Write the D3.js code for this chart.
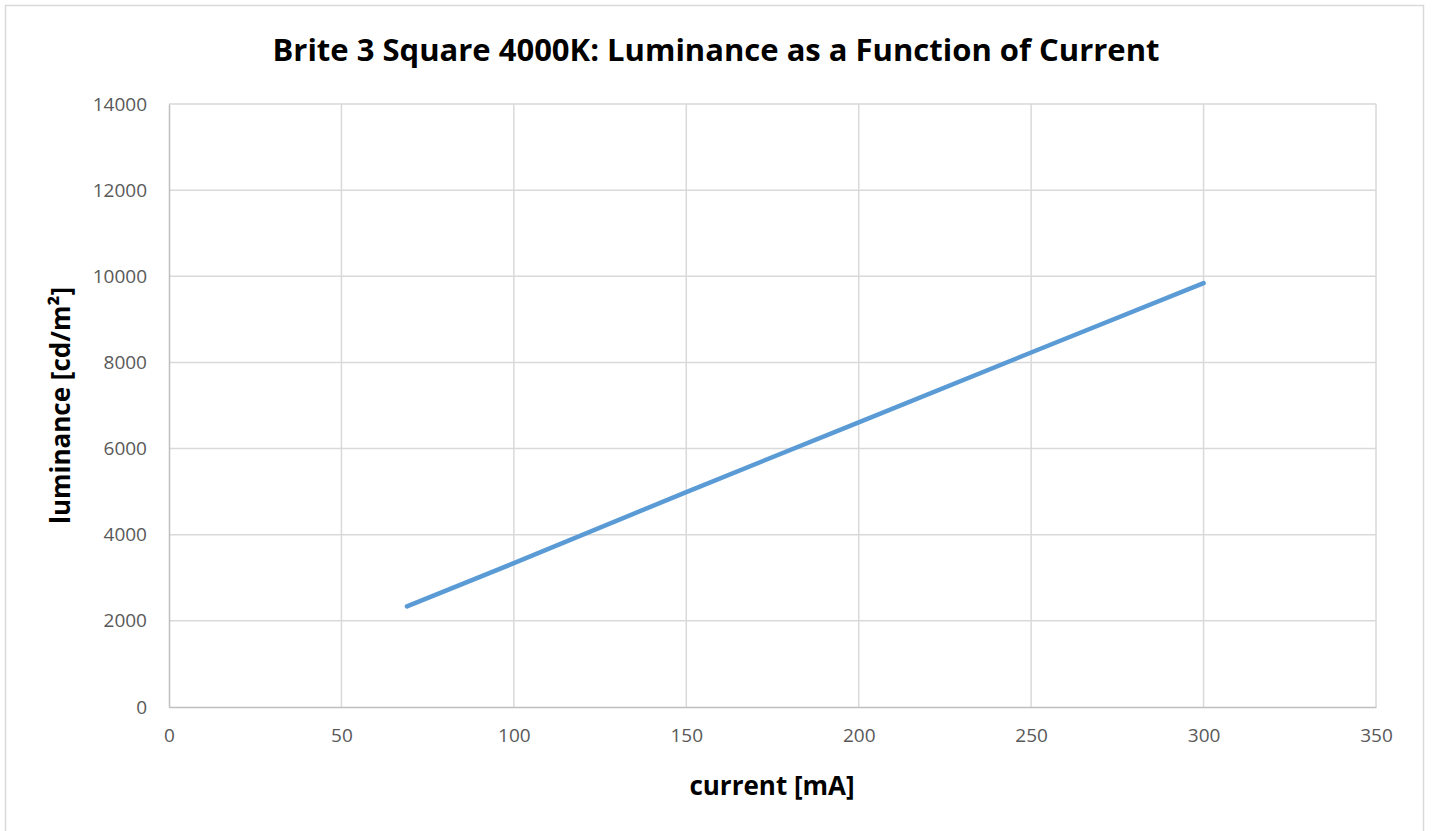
<!DOCTYPE html>
<html>
<head>
<meta charset="utf-8">
<script src="https://cdn.jsdelivr.net/npm/d3@7"></script>
<style>
  body { margin: 0; background: #fff; }
  text { font-family: "Open Sans", "Noto Sans", sans-serif; }
</style>
</head>
<body>
<svg width="1432" height="831"></svg>
<script>
const width = 1432;
const height = 831;

// data
const currentMA = [69, 100, 150, 200, 250, 300];
const luminance = [2335, 3340, 4990, 6610, 8230, 9840];
const xTicks = [0, 50, 100, 150, 200, 250, 300, 350];
const yTicks = [0, 2000, 4000, 6000, 8000, 10000, 12000, 14000];

const margin = { left: 169, right: 1376, top: 104, bottom: 707 };

const x = d3.scaleLinear().domain([0, 350]).range([margin.left, margin.right]);
const y = d3.scaleLinear().domain([0, 14000]).range([margin.bottom, margin.top]);

const svg = d3.select("svg");

// chart border
svg.append("rect")
  .attr("x", 5.5).attr("y", 5.5)
  .attr("width", 1418).attr("height", 840)
  .attr("fill", "none")
  .attr("stroke", "#d9d9d9")
  .attr("stroke-width", 1.5);

// gridlines
svg.append("g")
  .selectAll("line")
  .data(yTicks.slice(1))
  .join("line")
  .attr("x1", margin.left).attr("x2", margin.right)
  .attr("y1", d => y(d)).attr("y2", d => y(d))
  .attr("stroke", "#d9d9d9").attr("stroke-width", 1.5);

svg.append("g")
  .selectAll("line")
  .data(xTicks.slice(1))
  .join("line")
  .attr("x1", d => x(d)).attr("x2", d => x(d))
  .attr("y1", margin.top).attr("y2", margin.bottom)
  .attr("stroke", "#d9d9d9").attr("stroke-width", 1.5);

// axes
const xAxis = svg.append("g")
  .attr("transform", `translate(0,${margin.bottom})`)
  .call(d3.axisBottom(x).tickValues(xTicks).tickSize(0).tickPadding(22));
const yAxis = svg.append("g")
  .attr("transform", `translate(${margin.left},0)`)
  .call(d3.axisLeft(y).tickValues(yTicks).tickSize(0).tickPadding(22).tickFormat(d3.format("d")));

[xAxis, yAxis].forEach(a => {
  a.attr("font-size", 19).attr("font-family", "\"Open Sans\", sans-serif");
  a.select(".domain").attr("stroke", "#bfbfbf").attr("stroke-width", 1.5);
  a.selectAll("text").attr("fill", "#595959");
});

// series line
const line = d3.line()
  .x((d, i) => x(currentMA[i]))
  .y(d => y(d));

svg.append("path")
  .datum(luminance)
  .attr("d", line)
  .attr("fill", "none")
  .attr("stroke", "#5b9bd5")
  .attr("stroke-width", 4.5)
  .attr("stroke-linecap", "round");

// title
svg.append("text")
  .attr("x", 716).attr("y", 61)
  .attr("text-anchor", "middle")
  .attr("font-weight", "bold")
  .attr("font-size", 31)
  .attr("fill", "#000")
  .text("Brite 3 Square 4000K: Luminance as a Function of Current");

// axis titles
svg.append("text")
  .attr("x", 772).attr("y", 795)
  .attr("text-anchor", "middle")
  .attr("font-weight", "bold")
  .attr("font-size", 26)
  .text("current [mA]");

svg.append("text")
  .attr("transform", `translate(70,${(margin.top + margin.bottom) / 2}) rotate(-90)`)
  .attr("text-anchor", "middle")
  .attr("font-weight", "bold")
  .attr("font-size", 26)
  .text("luminance [cd/m²]");
</script>
</body>
</html>
